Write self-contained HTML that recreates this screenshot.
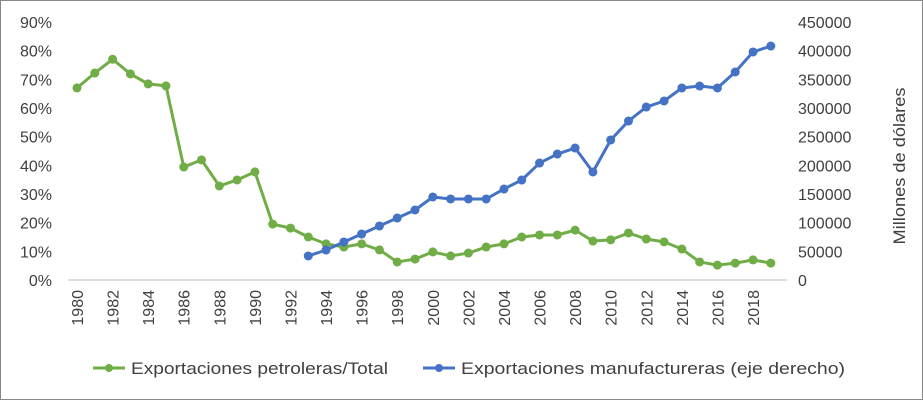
<!DOCTYPE html>
<html><head><meta charset="utf-8"><style>
body{margin:0;background:#fff}
svg{font-family:"Liberation Sans",sans-serif}
</style></head><body>
<svg id="c" width="923" height="400">
<rect x="0.5" y="0.5" width="922" height="399" fill="#fff" stroke="#888"/>
<text x="905" y="166" transform="rotate(-90 905 166)" text-anchor="middle" font-size="17" fill="#404040" textLength="157" lengthAdjust="spacingAndGlyphs">Millones de dólares</text>
<g>
<g><line x1="93" y1="368" x2="125" y2="368" stroke="#70AD47" stroke-width="3"/><circle cx="109" cy="368" r="4" fill="#70AD47"/><text x="131" y="374" font-size="17" fill="#404040" textLength="257" lengthAdjust="spacingAndGlyphs">Exportaciones petroleras/Total</text></g>
<g><line x1="423" y1="368" x2="455" y2="368" stroke="#4472C4" stroke-width="3"/><circle cx="439" cy="368" r="4" fill="#4472C4"/><text x="461" y="374" font-size="17" fill="#404040" textLength="384" lengthAdjust="spacingAndGlyphs">Exportaciones manufactureras (eje derecho)</text></g>
</g>
</svg>
<script>
const years=[];for(let y=1980;y<=2019;y++)years.push(y);
const petroleras=[67,72.2,77,71.9,68.4,67.7,39.4,41.9,32.8,34.9,37.7,19.5,18.1,15,12.6,11.5,12.6,10.5,6.3,7.3,9.8,8.4,9.4,11.5,12.6,15,15.7,15.7,17.4,13.6,14,16.4,14.3,13.3,10.8,6.3,5.2,5.9,7,5.9];
const manufYears=[1993,1994,1995,1996,1997,1998,1999,2000,2001,2002,2003,2004,2005,2006,2007,2008,2009,2010,2011,2012,2013,2014,2015,2016,2017,2018,2019];
const manufactureras=[41900,52300,66300,80200,94200,108100,122100,144800,141300,141300,141300,158700,174400,204000,219700,230200,188400,244200,277300,301700,312200,334900,338300,334900,362800,397700,408100];
const leftTicks=[0,10,20,30,40,50,60,70,80,90];
const rightTicks=[0,50000,100000,150000,200000,250000,300000,350000,400000,450000];
const svg=document.getElementById('c');const NS='http://www.w3.org/2000/svg';
const X0=77,STEP=17.79,Y0=280,Y1=22;
const x=y=>X0+(y-1980)*STEP;
const yl=v=>Y0-(v/90)*(Y0-Y1);
const yr=v=>Y0-(v/450000)*(Y0-Y1);
function mk(t,a,p){const e=document.createElementNS(NS,t);for(const k in a)e.setAttribute(k,a[k]);(p||svg).appendChild(e);return e;}
const ax=mk('line',{x1:68,y1:Y0,x2:787,y2:Y0,stroke:'#bfbfbf'});


leftTicks.forEach(v=>{const t=mk('text',{x:52,y:yl(v)+6,'text-anchor':'end','font-size':16,fill:'#404040'});t.textContent=v+'%';

});
rightTicks.forEach(v=>{const t=mk('text',{x:798,y:yr(v)+6,'font-size':16,fill:'#404040'});t.textContent=v;

});
years.forEach(y=>{if(y%2)return;const xx=x(y)+6;const t=mk('text',{x:xx,y:290,transform:`rotate(-90 ${xx} 290)`,'text-anchor':'end','font-size':16,fill:'#404040'});t.textContent=y;

});
function series(xs,vs,f,col,name){
const p=mk('polyline',{points:vs.map((v,i)=>x(xs[i])+','+f(v)).join(' '),fill:'none',stroke:col,'stroke-width':3,'stroke-linejoin':'round'});


vs.forEach((v,i)=>{const c=mk('circle',{cx:x(xs[i]),cy:f(v),r:4.5,fill:col});

});}
series(years,petroleras,yl,'#70AD47','petroleras');
series(manufYears,manufactureras,yr,'#4472C4','manufactureras');
</script>
</body></html>
